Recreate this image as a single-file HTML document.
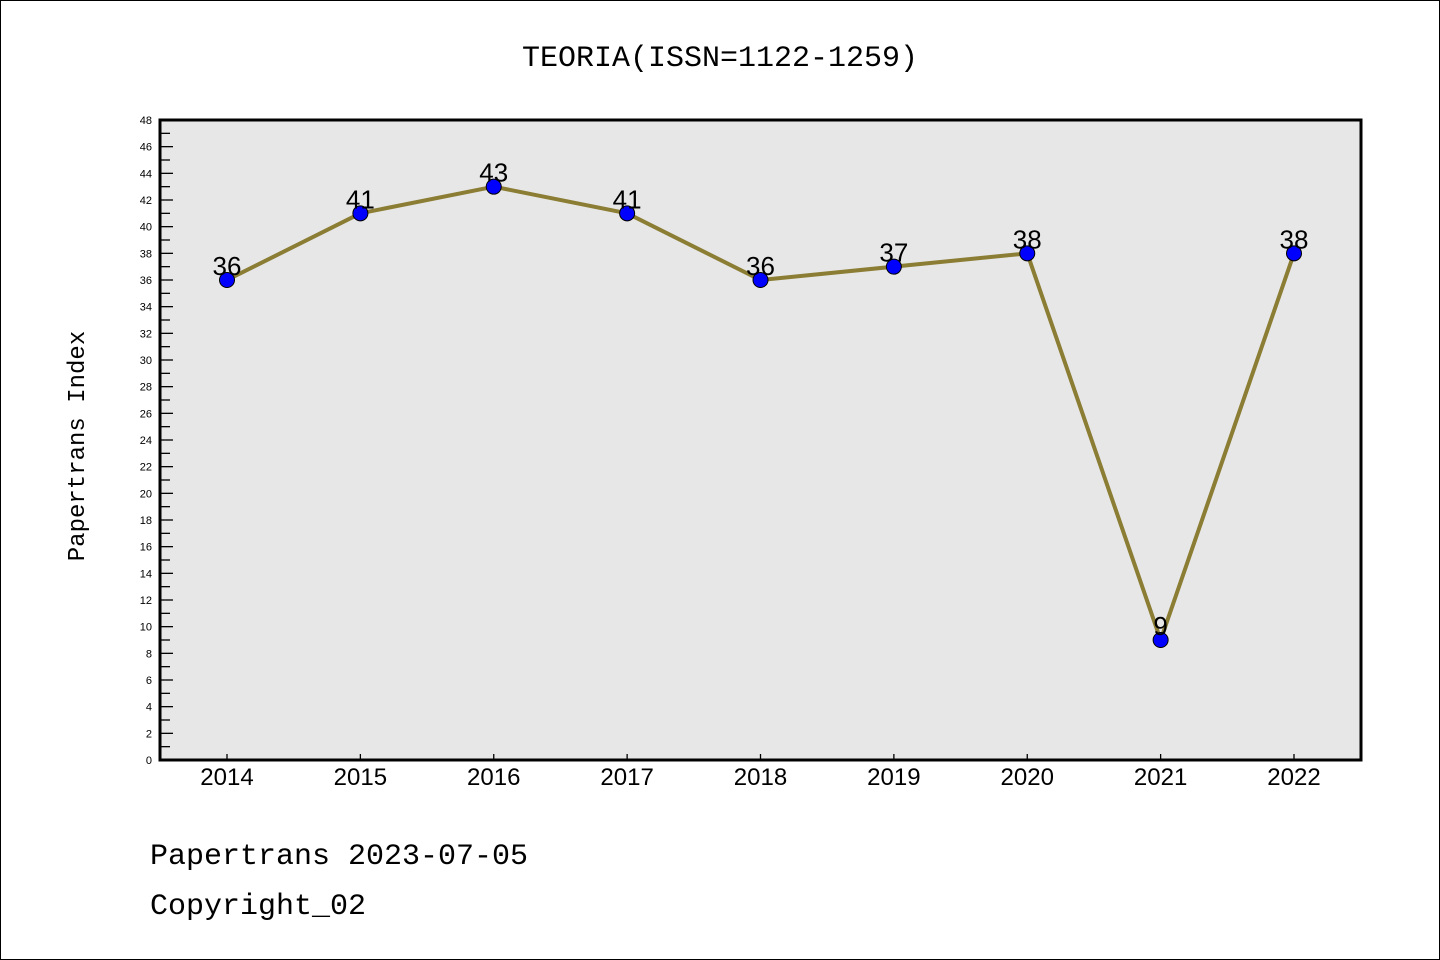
<!DOCTYPE html>
<html><head><meta charset="utf-8"><style>
html,body{margin:0;padding:0;background:#fff}
svg{display:block}
text{font-family:"Liberation Sans","DejaVu Sans",sans-serif}
.mono{font-family:"Liberation Mono","DejaVu Sans Mono",monospace}
</style></head><body>
<svg id="chart" width="1440" height="960" xmlns="http://www.w3.org/2000/svg">
<rect x="0.5" y="0.5" width="1439" height="959" fill="#fff" stroke="#000"/>
<text class="mono" x="720" y="66" font-size="30" text-anchor="middle">TEORIA(ISSN=1122-1259)</text>
<rect x="160" y="120" width="1201" height="640" fill="#e7e7e7"/>
<g id="yaxis"></g>
<g id="xaxis"></g>
<g id="series"></g>
<rect x="160" y="120" width="1201" height="640" fill="none" stroke="#000" stroke-width="3"/>
<text class="mono" x="84" y="446" font-size="24" text-anchor="middle" transform="rotate(-90 84 446)">Papertrans Index</text>
<text class="mono" x="150" y="864" font-size="30">Papertrans 2023-07-05</text>
<text class="mono" x="150" y="914" font-size="30">Copyright_02</text>
</svg>
<script>
const years = ["2014","2015","2016","2017","2018","2019","2020","2021","2022"];
const values = [36,41,43,41,36,37,38,9,38];
const yMax = 48;
const yTickStep = 2;
const NS="http://www.w3.org/2000/svg";
function mk(t,a){const e=document.createElementNS(NS,t);for(const k in a)e.setAttribute(k,a[k]);return e;}
const L=160,R=1361,T=120,B=760;
const xs=i=>227+i*(1294-227)/(years.length-1);
const ys=v=>B-v*(B-T)/yMax;
const ya=document.getElementById('yaxis');
for(let v=0;v<=yMax;v+=1){
  const y=ys(v);const major=v%yTickStep===0;
  const ln=mk('line',{x1:L,x2:L+(major?13:10),y1:y,y2:y,stroke:'#000','stroke-width':1.3});
  
  
  ya.appendChild(ln);
  if(major){
    const t=mk('text',{x:152,y:y+4,'font-size':11,'text-anchor':'end'});
    
    
    t.textContent=v;ya.appendChild(t);
  }
}
const xa=document.getElementById('xaxis');
years.forEach((yr,i)=>{
  const x=xs(i);
  const ln=mk('line',{x1:x,x2:x,y1:B,y2:B-6,stroke:'#000','stroke-width':1.3});
  
  
  xa.appendChild(ln);
  const t=mk('text',{x:x,y:785,'font-size':24,'text-anchor':'middle'});
  
  
  t.textContent=yr;xa.appendChild(t);
});
const s=document.getElementById('series');
const pl=mk('polyline',{points:values.map((v,i)=>xs(i)+','+ys(v)).join(' '),fill:'none',stroke:'#8b7d33','stroke-width':4,'stroke-linejoin':'round'});


s.appendChild(pl);
values.forEach((v,i)=>{
  const c=mk('circle',{cx:xs(i),cy:ys(v),r:7.5,fill:'#0000ff',stroke:'#000','stroke-width':1});
  
  
  s.appendChild(c);
  const t=mk('text',{x:xs(i),y:ys(v)-5,'font-size':26,'text-anchor':'middle'});
  
  
  t.textContent=v;s.appendChild(t);
});
</script>
</body></html>
